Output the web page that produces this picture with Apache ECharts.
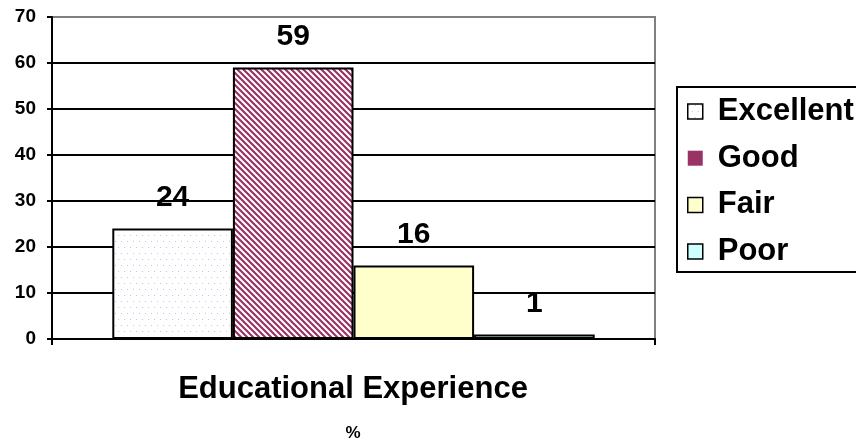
<!DOCTYPE html>
<html>
<head>
<meta charset="utf-8">
<script src="https://cdn.jsdelivr.net/npm/echarts@6/dist/echarts.min.js"></script>
<style>
html,body{margin:0;padding:0;background:#fff;}
#chart{width:856px;height:446px;}
</style>
</head>
<body>
<div id="chart"></div>
<script>
const categories = [''];
const seriesNames = ['Excellent', 'Good', 'Fair', 'Poor'];
const excellentValues = [24];
const goodValues = [59];
const fairValues = [16];
const poorValues = [1];
const yTicks = [0, 10, 20, 30, 40, 50, 60, 70];

function dotPattern() {
  const c = document.createElement('canvas');
  c.width = 6; c.height = 12;
  const ctx = c.getContext('2d');
  ctx.fillStyle = '#ffffff';
  ctx.fillRect(0, 0, 6, 12);
  ctx.fillStyle = '#c9c2e6';
  ctx.fillRect(1, 1, 1, 1);
  ctx.fillRect(4, 7, 1, 1);
  return c;
}
function stripePattern() {
  const s = 6;
  const c = document.createElement('canvas');
  c.width = s; c.height = s;
  const ctx = c.getContext('2d');
  ctx.fillStyle = '#ffffff';
  ctx.fillRect(0, 0, s, s);
  ctx.strokeStyle = '#993366';
  ctx.lineWidth = 2.2;
  ctx.beginPath();
  ctx.moveTo(-1, -1); ctx.lineTo(s + 1, s + 1);
  ctx.moveTo(-1, s - 1); ctx.lineTo(1, s + 1);
  ctx.moveTo(s - 1, -1); ctx.lineTo(s + 1, 1);
  ctx.stroke();
  return c;
}

const FONT = 'Liberation Sans, Arial, sans-serif';
const chart = echarts.init(document.getElementById('chart'), null, {renderer: 'canvas'});
const labelStyle = {
  show: true, position: 'top', distance: 16,
  fontFamily: FONT, fontWeight: 'bold', fontSize: 30, color: '#000'
};
const fills = [
  {image: dotPattern(), repeat: 'repeat'},
  {image: stripePattern(), repeat: 'repeat'},
  '#ffffcc',
  '#ccffff'
];
const valuesList = [excellentValues, goodValues, fairValues, poorValues];

chart.setOption({
  animation: false,
  backgroundColor: '#fff',
  title: [
    {text: 'Educational Experience', left: 348, top: 369, textAlign: 'center',
     textStyle: {fontFamily: FONT, fontWeight: 'bold', fontSize: 31, color: '#000'}},
    {text: '%', left: 348, top: 420, textAlign: 'center',
     textStyle: {fontFamily: FONT, fontWeight: 'bold', fontSize: 17, color: '#000'}}
  ],
  grid: {left: 52, right: 201, top: 17, bottom: 107, show: true, borderColor: '#808080', borderWidth: 2, backgroundColor: 'transparent'},
  legend: {
    orient: 'vertical', left: 677, top: 87,
    padding: [9, 60, 5, 10],
    borderColor: '#000', borderWidth: 2,
    backgroundColor: '#fff',
    itemWidth: 15, itemHeight: 15, itemGap: 15.7,
    icon: 'rect',
    textStyle: {fontFamily: FONT, fontWeight: 'bold', fontSize: 31, color: '#000', lineHeight: 30.5, padding: [0, 0, 0, 10]},
    data: [
      {name: seriesNames[0], itemStyle: {borderColor: '#000', borderWidth: 1.5}},
      {name: seriesNames[1], itemStyle: {color: '#993366', borderWidth: 0}},
      {name: seriesNames[2], itemStyle: {borderColor: '#000', borderWidth: 1.5}},
      {name: seriesNames[3], itemStyle: {borderColor: '#000', borderWidth: 1.5}}
    ]
  },
  xAxis: {
    type: 'category', data: categories,
    axisLine: {lineStyle: {color: '#000', width: 2}},
    axisTick: {show: true, length: 6, lineStyle: {color: '#000', width: 2}},
    axisLabel: {show: false}
  },
  yAxis: {
    type: 'value', min: 0, max: 70, interval: 10,
    axisLine: {show: true, lineStyle: {color: '#000', width: 2}},
    axisTick: {show: true, length: 5, lineStyle: {color: '#000', width: 2}},
    axisLabel: {margin: 16, fontFamily: FONT, fontWeight: 'bold', fontSize: 19, color: '#000',
      formatter: v => yTicks.includes(v) ? String(v) : ''},
    splitLine: {show: true, showMaxLine: false, lineStyle: {color: '#000', width: 2}}
  },
  series: seriesNames.map((n, i) => ({
    name: n, type: 'bar', data: valuesList[i],
    barGap: '0%', barCategoryGap: '20%',
    itemStyle: {color: fills[i], borderColor: '#000', borderWidth: 2},
    label: labelStyle
  }))
});
</script>
</body>
</html>
